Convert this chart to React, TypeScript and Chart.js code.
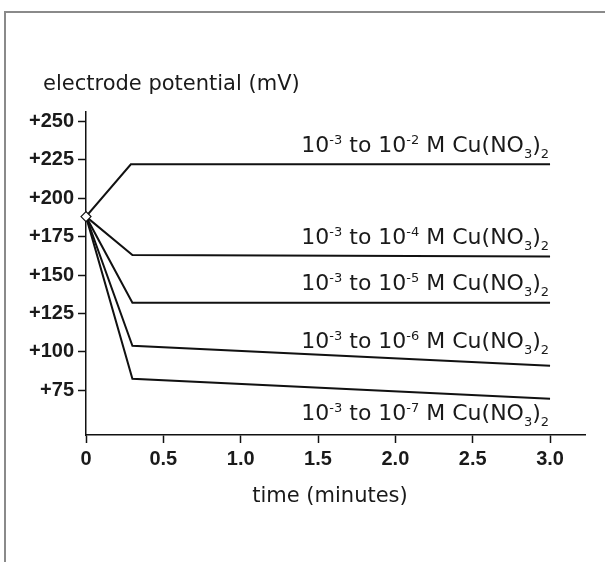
import { useEffect, useRef } from 'react';
import { Chart, registerables } from 'chart.js';
Chart.register(...registerables);

// ---- data ----
const startTime = 0;
const startPotential = 188;
const bendTimes = [0.29, 0.3, 0.3, 0.3, 0.3];
const bendPotentials = [222, 163, 132, 104, 82.5];
const endTime = 3.0;
const endPotentials = [222, 162, 132, 91, 69.5];
const finalExponents = ['-2', '-4', '-5', '-6', '-7'];
const yTickValues = [75, 100, 125, 150, 175, 200, 225, 250];
const xTickValues = [0, 0.5, 1.0, 1.5, 2.0, 2.5, 3.0];
const yTitle = 'electrode potential (mV)';
const xTitle = 'time (minutes)';

const labelOffsets = [-12, -13, -13, -18, 21];

const MAIN_FONT = '22px "DejaVu Sans"';
const SMALL_FONT = '13px "DejaVu Sans"';
const TICK_FONT = { family: '"Liberation Sans", Arial, sans-serif', size: 20, weight: 'bold' as const };

type Part = { t: string; k: 'n' | 'sup' | 'sub' };
function labelParts(exp: string): Part[] {
  return [
    { t: '10', k: 'n' },
    { t: '-3', k: 'sup' },
    { t: ' to 10', k: 'n' },
    { t: exp, k: 'sup' },
    { t: ' M Cu(NO', k: 'n' },
    { t: '3', k: 'sub' },
    { t: ')', k: 'n' },
    { t: '2', k: 'sub' },
  ];
}

const decorPlugin = {
  id: 'decor',
  beforeDraw(chart: any) {
    const ctx = chart.ctx;
    ctx.save();
    ctx.strokeStyle = '#8a8a8a';
    ctx.lineWidth = 2;
    ctx.beginPath();
    ctx.moveTo(605, 12);
    ctx.lineTo(5, 12);
    ctx.lineTo(5, 562);
    ctx.stroke();
    ctx.restore();
  },
  afterDatasetsDraw(chart: any) {
    const ctx = chart.ctx;
    const xs = chart.scales.x;
    const ys = chart.scales.y;
    ctx.save();
    ctx.fillStyle = '#1a1a1a';
    // titles
    ctx.font = '21px "DejaVu Sans"';
    ctx.textAlign = 'left';
    ctx.textBaseline = 'alphabetic';
    ctx.fillText(yTitle, 43, 90);
    ctx.textAlign = 'center';
    ctx.fillText(xTitle, 330, 502);
    // series labels
    ctx.textAlign = 'left';
    const right = xs.getPixelForValue(endTime) - 1;
    finalExponents.forEach((exp, i) => {
      const parts = labelParts(exp);
      let total = 0;
      parts.forEach((p) => {
        ctx.font = p.k === 'n' ? MAIN_FONT : SMALL_FONT;
        total += ctx.measureText(p.t).width;
      });
      const base = ys.getPixelForValue(endPotentials[i]) + labelOffsets[i];
      let x = right - total;
      parts.forEach((p) => {
        ctx.font = p.k === 'n' ? MAIN_FONT : SMALL_FONT;
        const dy = p.k === 'sup' ? -8 : p.k === 'sub' ? 6 : 0;
        ctx.fillText(p.t, x, base + dy);
        x += ctx.measureText(p.t).width;
      });
    });
    ctx.restore();
  },
};

export default function App() {
  const ref = useRef<HTMLCanvasElement>(null);
  useEffect(() => {
    if (!ref.current) return;
    const datasets: any[] = bendPotentials.map((bp, i) => ({
      data: [
        { x: startTime, y: startPotential },
        { x: bendTimes[i], y: bp },
        { x: endTime, y: endPotentials[i] },
      ],
      showLine: true,
      borderColor: '#111',
      borderWidth: 2,
      pointRadius: 0,
      tension: 0,
      fill: false,
      order: 1,
    }));
    datasets.push({
      data: [{ x: startTime, y: startPotential }],
      showLine: false,
      pointStyle: 'rectRot',
      pointRadius: 5,
      pointBackgroundColor: '#fff',
      pointBorderColor: '#111',
      pointBorderWidth: 1.2,
      clip: false,
      order: 0,
    });
    const chart = new Chart(ref.current, {
      type: 'scatter',
      data: { datasets },
      plugins: [decorPlugin],
      options: {
        animation: false,
        responsive: false,
        events: [],
        layout: { padding: { top: 112, right: 20, left: 0, bottom: 0 } },
        plugins: { legend: { display: false }, tooltip: { enabled: false } },
        elements: { line: { borderCapStyle: 'butt' } },
        scales: {
          x: {
            type: 'linear',
            min: 0,
            max: 3.226,
            afterBuildTicks: (s: any) => {
              s.ticks = xTickValues.map((v) => ({ value: v }));
            },
            afterFit: (s: any) => {
              s.height = 127;
            },
            ticks: {
              color: '#1a1a1a',
              font: TICK_FONT,
              padding: 4,
              autoSkip: false,
              maxRotation: 0,
              callback: (v: any) => (Number(v) === 0 ? '0' : Number(v).toFixed(1)),
            },
            grid: { drawOnChartArea: false, tickLength: 8, tickColor: '#111', tickWidth: 1.5 },
            border: { display: true, color: '#111', width: 1.5 },
          },
          y: {
            type: 'linear',
            min: 46,
            max: 256,
            afterBuildTicks: (s: any) => {
              s.ticks = yTickValues.map((v) => ({ value: v }));
            },
            afterFit: (s: any) => {
              s.width = 86;
            },
            ticks: {
              color: '#1a1a1a',
              font: TICK_FONT,
              padding: 4,
              autoSkip: false,
              callback: (v: any) => '+' + v,
            },
            grid: { drawOnChartArea: false, tickLength: 8, tickColor: '#111', tickWidth: 1.5 },
            border: { display: true, color: '#111', width: 1.5 },
          },
        },
      },
    });
    return () => chart.destroy();
  }, []);
  return (
    <div style={{ position: 'absolute', left: 0, top: 0, width: 605, height: 562, background: '#fff' }}>
      <canvas ref={ref} width={605} height={562} style={{ display: 'block' }} />
    </div>
  );
}
